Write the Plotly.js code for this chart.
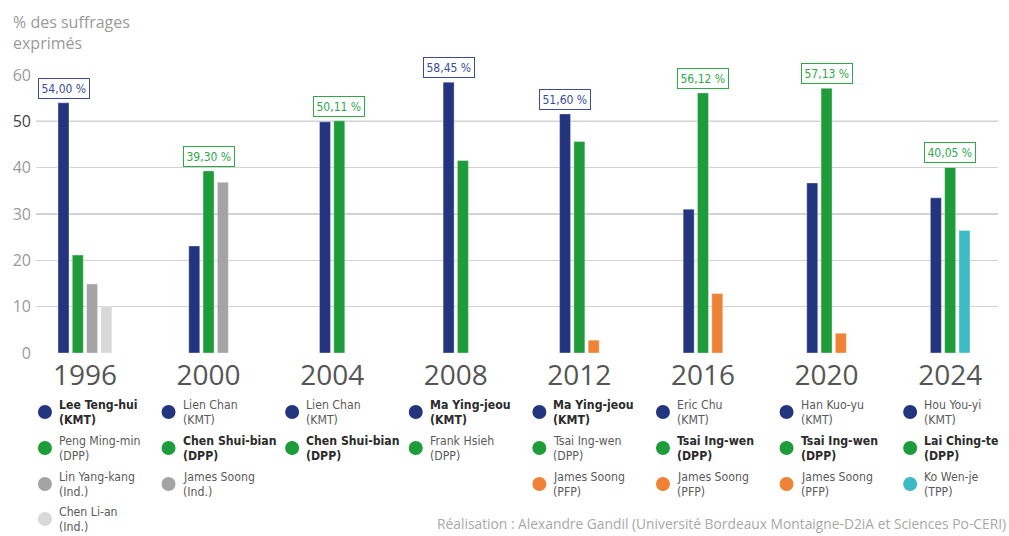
<!DOCTYPE html>
<html>
<head>
<meta charset="utf-8">
<script src="https://cdn.plot.ly/plotly-3.0.1.min.js"></script>
<style>html,body{margin:0;padding:0;background:#fff;}#chart{width:1009px;height:536px;}</style>
</head>
<body>
<div id="chart"></div>
<script>
// ---- data ----
const years = ['1996','2000','2004','2008','2012','2016','2020','2024'];
const kmtValues   = [54.00, 23.10, 49.89, 58.45, 51.60, 31.04, 36.70, 33.49];
const dppValues   = [21.13, 39.30, 50.11, 41.55, 45.63, 56.12, 57.13, 40.05];
const thirdValues = [14.90, 36.84, null, null, 2.77, 12.84, 4.26, 26.46];
const fourthValues= [9.98, null, null, null, null, null, null, null];

const kmtNames    = ['Lee Teng-hui','Lien Chan','Lien Chan','Ma Ying-jeou','Ma Ying-jeou','Eric Chu','Han Kuo-yu','Hou You-yi'];
const dppNames    = ['Peng Ming-min','Chen Shui-bian','Chen Shui-bian','Frank Hsieh','Tsai Ing-wen','Tsai Ing-wen','Tsai Ing-wen','Lai Ching-te'];
const thirdNames  = ['Lin Yang-kang','James Soong',null,null,'James Soong','James Soong','James Soong','Ko Wen-je'];
const thirdParties= ['Ind.','Ind.',null,null,'PFP','PFP','PFP','TPP'];
const fourthNames = ['Chen Li-an',null,null,null,null,null,null,null];
const fourthParties=['Ind.',null,null,null,null,null,null,null];
const winnerSlot  = [0,1,1,0,0,1,1,1];   // 0 = KMT, 1 = DPP
const winnerLabels= ['54,00 %','39,30 %','50,11 %','58,45 %','51,60 %','56,12 %','57,13 %','40,05 %'];

// ---- styles ----
const C_KMT = '#24357f', C_DPP = '#1e9c3a', C_IND = '#a4a4a4', C_IND2 = '#d8d8d8', C_PFP = '#ef8234', C_TPP = '#3dbbc4';
const thirdColors = thirdParties.map(p => p === 'PFP' ? C_PFP : p === 'TPP' ? C_TPP : C_IND);
const LBL_KMT = '#3a4c99', LBL_DPP = '#2fa84a';
const FONT_MAIN = 'Open Sans, sans-serif';
const FONT_NARROW = 'DejaVu Sans Condensed, Liberation Sans Narrow, sans-serif';

const plotL = 36, plotR = 11, plotT = 75, plotB = 183, W = 1009, H = 536;
const plotH = H - plotT - plotB;
const slotPx = 123.6;
const BW = 11 / slotPx, STEP = 14.3 / slotPx;
const py = Y => (H - plotB - Y) / plotH;

const slots = [kmtValues, dppValues, thirdValues, fourthValues];
const counts = years.map((_, i) => slots.filter(s => s[i] !== null).length);
const centerOf = (slot, i) => (slot - (counts[i] - 1) / 2) * STEP;

function barTrace(values, slot, color) {
  return {
    type: 'bar', x: years, y: values,
    width: BW,
    offset: years.map((_, i) => centerOf(slot, i) - BW / 2),
    marker: {color: color, line: {color: 'rgba(255,255,255,0.6)', width: 0.6}},
    hoverinfo: 'x+y', showlegend: false
  };
}
const traces = [
  barTrace(kmtValues, 0, C_KMT),
  barTrace(dppValues, 1, C_DPP),
  barTrace(thirdValues, 2, thirdColors),
  barTrace(fourthValues, 3, C_IND2)
];

const annotations = [];
const shapes = [];

// winner labels
years.forEach((yr, i) => {
  const s = winnerSlot[i];
  const v = slots[s][i];
  const col = s === 0 ? LBL_KMT : LBL_DPP;
  annotations.push({
    x: i + centerOf(s, i), y: v, xref: 'x', yref: 'y',
    text: winnerLabels[i], showarrow: false, yanchor: 'bottom', yshift: 4,
    font: {family: FONT_NARROW, size: 12, color: col},
    bordercolor: col, borderwidth: 1, borderpad: 2.5, bgcolor: '#fff'
  });
});

// custom legend
const rowY = [412, 448, 484, 519];
const legendCols = [
  {names: kmtNames, parties: years.map(() => 'KMT'), colors: years.map(() => C_KMT)},
  {names: dppNames, parties: years.map(() => 'DPP'), colors: years.map(() => C_DPP)},
  {names: thirdNames, parties: thirdParties, colors: thirdColors},
  {names: fourthNames, parties: fourthParties, colors: years.map(() => C_IND2)}
];
years.forEach((yr, i) => {
  const cx = i - 40 / slotPx;
  legendCols.forEach((lc, r) => {
    if (!lc.names[i]) return;
    const Y = rowY[r];
    shapes.push({
      type: 'circle', xref: 'x', yref: 'paper', xsizemode: 'pixel', ysizemode: 'pixel',
      xanchor: cx, yanchor: py(Y), x0: -7, x1: 7, y0: -7, y1: 7,
      fillcolor: lc.colors[i], line: {width: 0}
    });
    const bold = winnerSlot[i] === r;
    const t1 = bold ? '<b>' + lc.names[i] + '</b>' : lc.names[i];
    const t2 = bold ? '<b>(' + lc.parties[i] + ')</b>' : '(' + lc.parties[i] + ')';
    const col = bold ? '#2b2b2b' : '#5a5a5a';
    [[t1, Y - 7], [t2, Y + 7.5]].forEach(([t, yy]) => {
      annotations.push({
        x: cx, xref: 'x', xshift: 12, y: py(yy), yref: 'paper',
        text: t, showarrow: false, xanchor: 'left', yanchor: 'middle',
        font: {family: FONT_NARROW, size: 12.2, color: col}
      });
    });
  });
});

// y-axis title
annotations.push({
  xref: 'paper', yref: 'paper', x: (11 - plotL) / (W - plotL - plotR), y: py(9),
  xanchor: 'left', yanchor: 'top', align: 'left', showarrow: false,
  text: '% des suffrages<br>exprimés',
  font: {family: FONT_MAIN, size: 16, color: '#9a9a9a'}
});
// source
annotations.push({
  xref: 'paper', yref: 'paper', x: (1008 - plotL) / (W - plotL - plotR), y: py(512),
  xanchor: 'right', yanchor: 'top', showarrow: false,
  text: 'Réalisation : Alexandre Gandil (Université Bordeaux Montaigne-D2iA et Sciences Po-CERI)',
  font: {family: FONT_MAIN, size: 13.8, color: '#a8a8a8'}
});

// emphasised 50 grid line
shapes.push({type: 'line', xref: 'paper', yref: 'y', x0: 0, x1: 1, y0: 50, y1: 50,
  line: {color: '#a9a9a9', width: 1.4}, layer: 'below'});

const yTicks = [0, 10, 20, 30, 40, 50, 60];
const layout = {
  width: W, height: H,
  margin: {l: plotL, r: plotR, t: plotT, b: plotB},
  paper_bgcolor: '#fff', plot_bgcolor: '#fff',
  barmode: 'overlay',
  showlegend: false,
  xaxis: {
    type: 'category', range: [-0.396, 7.387], showgrid: false, zeroline: false,
    showline: false, ticks: '', ticklabelstandoff: 3,
    tickfont: {family: FONT_MAIN, size: 28, color: '#555'},
    fixedrange: true
  },
  yaxis: {
    range: [0, 60], tickvals: yTicks,
    ticktext: yTicks.map(v => v === 50 ? '<span style="color:#444">50</span>' : String(v)),
    showgrid: true, gridcolor: '#d2d2d2', gridwidth: 1.2, zeroline: false,
    ticks: '', ticklabelstandoff: 4,
    tickfont: {family: FONT_MAIN, size: 16, color: '#9a9a9a'},
    fixedrange: true
  },
  annotations: annotations,
  shapes: shapes
};

Plotly.newPlot('chart', traces, layout, {displayModeBar: false, staticPlot: true});
</script>
</body>
</html>
